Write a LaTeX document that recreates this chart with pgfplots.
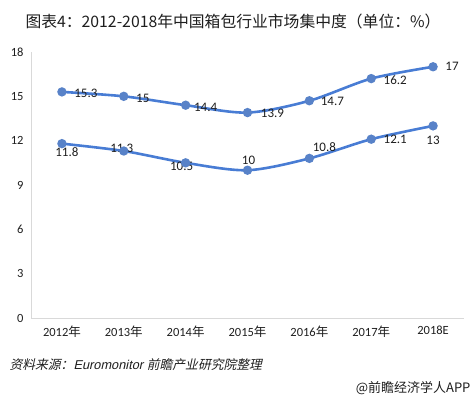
\documentclass[border=0pt]{standalone}
\usepackage{pgfplots}
\pgfplotsset{compat=1.18}
\usepackage{fontspec}
\setmainfont{Carlito}
\newfontfamily\cjk{Noto Sans CJK SC}
\newfontfamily\cjkit[FakeSlant=0.22]{Noto Sans CJK SC}
\newfontfamily\latit[FakeSlant=0.22]{Liberation Sans}
\definecolor{lineblue}{RGB}{72,124,212}
\definecolor{markblue}{RGB}{88,130,200}
\definecolor{axisgray}{RGB}{217,217,217}
\definecolor{txt}{RGB}{30,30,30}
\pgfplotstableread{
x y
0 15.3
1 15
2 14.4
3 13.9
4 14.7
5 16.2
6 17
}\upperdata
\pgfplotstableread{
x y
0 11.8
1 11.3
2 10.5
3 10
4 10.8
5 12.1
6 13
}\lowerdata
\begin{document}
\begin{tikzpicture}[x=1pt,y=1pt]
\path[use as bounding box] (0,0) rectangle (474,398);
\node[font={\cjk\fontsize{15.8}{18}\selectfont},text=txt] at (233,376) {图表4：2012-2018年中国箱包行业市场集中度（单位：\%）};
\begin{axis}[
  at={(31pt,80pt)}, anchor=south west,
  width=433pt, height=266pt, scale only axis,
  xmin=-0.5, xmax=6.5, ymin=0, ymax=18,
  ytick={0,3,...,18},
  xtick={0,...,6},
  xticklabels={2012{\cjk 年},2013{\cjk 年},2014{\cjk 年},2015{\cjk 年},2016{\cjk 年},2017{\cjk 年},2018E},
  axis x line*=bottom, axis y line*=left,
  x axis line style={draw=axisgray,-},
  y axis line style={draw=axisgray,-},
  major tick length=0pt,
  tick label style={font=\fontsize{12.5}{14}\selectfont, text=txt},
  /pgf/number format/assume math mode=true,
  xticklabel style={yshift=-4pt},
  yticklabel style={xshift=-4pt},
  clip=false,
]
\addplot[lineblue, line width=2.6pt, smooth, tension=0.5, mark=*, mark size=3.3pt,
  mark options={fill=markblue, draw=markblue}] table[x=x,y=y] {\upperdata};
\addplot[lineblue, line width=2.6pt, smooth, tension=0.5, mark=*, mark size=3.3pt,
  mark options={fill=markblue, draw=markblue}] table[x=x,y=y] {\lowerdata};
\begin{scope}[every node/.style={font=\fontsize{13}{15}\selectfont, text=txt}]
\node[xshift=24pt,yshift=-1pt] at (axis cs:0,15.3) {15.3};
\node[xshift=19pt,yshift=-2pt] at (axis cs:1,15) {15};
\node[xshift=20pt,yshift=-2pt] at (axis cs:2,14.4) {14.4};
\node[xshift=25pt,yshift=-1pt] at (axis cs:3,13.9) {13.9};
\node[xshift=23pt,yshift=-1pt] at (axis cs:4,14.7) {14.7};
\node[xshift=24pt,yshift=-2pt] at (axis cs:5,16.2) {16.2};
\node[xshift=19pt,yshift=0pt] at (axis cs:6,17) {17};
\node[xshift=5pt,yshift=-8pt] at (axis cs:0,11.8) {11.8};
\node[xshift=-2pt,yshift=3pt] at (axis cs:1,11.3) {11.3};
\node[xshift=-4pt,yshift=-4pt] at (axis cs:2,10.5) {10.5};
\node[xshift=1pt,yshift=10pt] at (axis cs:3,10) {10};
\node[xshift=15pt,yshift=11pt] at (axis cs:4,10.8) {10.8};
\node[xshift=24pt,yshift=0pt] at (axis cs:5,12.1) {12.1};
\node[xshift=0pt,yshift=-14pt] at (axis cs:6,13) {13};
\end{scope}
\end{axis}
\node[anchor=west, font=\fontsize{12.8}{14}\selectfont, text=txt] at (6,33) {\cjkit 资料来源：\latit Euromonitor \cjkit 前瞻产业研究院整理};
\node[anchor=east, font={\cjk\fontsize{13}{15}\selectfont}, text=txt] at (474,10) {@前瞻经济学人APP};
\end{tikzpicture}
\end{document}
